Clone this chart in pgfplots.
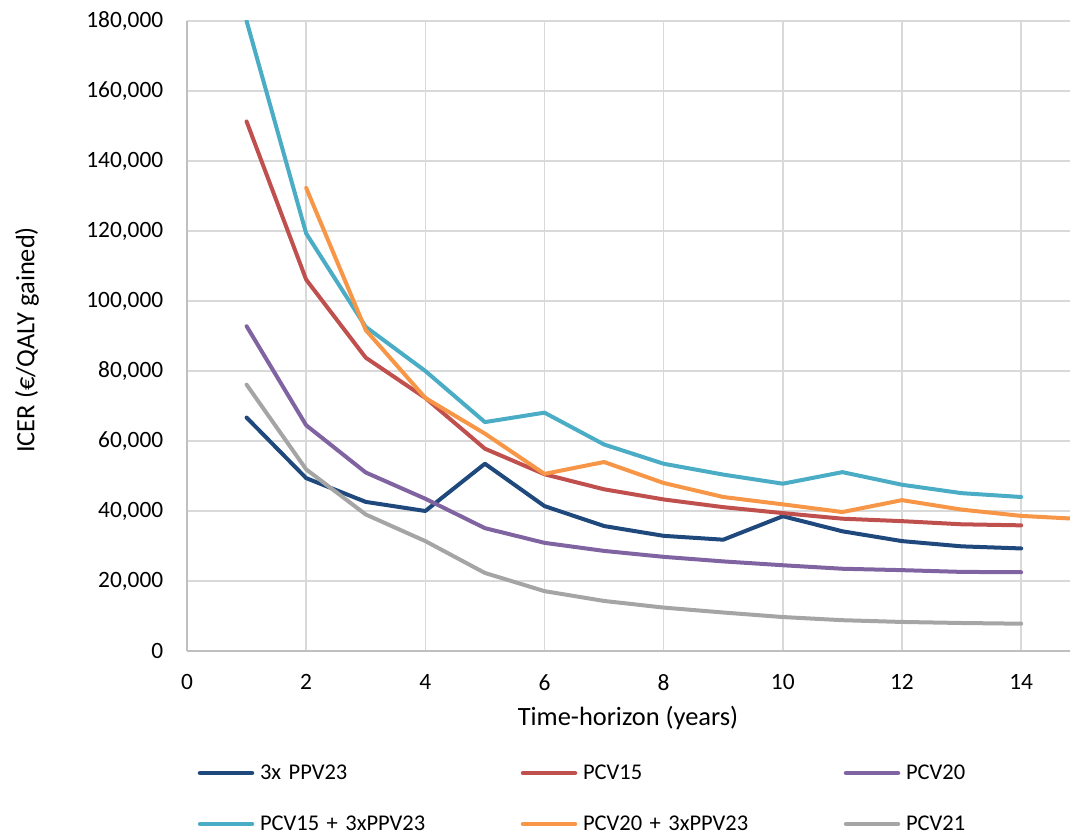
\documentclass[border=0pt]{standalone}
\usepackage{fontspec}
\setmainfont{Carlito}
\usepackage{pgfplots}
\pgfplotsset{compat=1.18}
\definecolor{cnavy}{HTML}{1F497D}
\definecolor{cred}{HTML}{C0504D}
\definecolor{cpurple}{HTML}{8064A2}
\definecolor{ccyan}{HTML}{4BACC6}
\definecolor{corange}{HTML}{F79646}
\definecolor{cgray}{HTML}{A5A5A5}
\definecolor{gridgray}{HTML}{D9D9D9}
\definecolor{axgray}{HTML}{BFBFBF}
\newcommand{\labfont}{\fontsize{26.4pt}{31pt}\selectfont}
\newcommand{\tickfont}{\fontsize{23.4pt}{28pt}\selectfont}
\begin{document}
\fontsize{22.5pt}{27pt}\selectfont
\begin{tikzpicture}
\begin{axis}[
  scale only axis, width=883pt, height=630pt,
  at={(0pt,0pt)}, anchor=south west,
  xmin=0, xmax=14.82, ymin=0, ymax=180000,
  xtick={0,2,...,14}, ytick={0,20000,...,180000},
  scaled y ticks=false,
  /pgf/number format/assume math mode=true,
  yticklabel style={font=\tickfont, color=black, xshift=-16pt, /pgf/number format/fixed, /pgf/number format/1000 sep={,}},
  xticklabel style={font=\tickfont, color=black, yshift=-16pt},
  grid=major, major grid style={color=gridgray, line width=1.5pt},
  axis x line*=bottom, axis y line*=left,
  axis line style={color=axgray, line width=2pt},
  major tick length=0pt,
  xlabel={\labfont Time-horizon (years)},
  ylabel={\labfont ICER (€/QALY gained)},
  every axis x label/.style={at={(axis description cs:0.4994,-0.1063)}, anchor=center},
  every axis y label/.style={at={(axis description cs:-0.1812,0.4937)}, anchor=center, rotate=90},
  legend columns=3,
  legend cell align=left,
  legend style={at={(axis description cs:0.01133,-0.17778)}, anchor=north west,
    draw=none, fill=none, inner sep=0pt, outer sep=0pt, column sep=0pt, row sep=31pt,
    nodes={inner sep=0pt, text height=16pt, text depth=4pt, text width=260pt, align=left}},
  legend image code/.code={\draw[#1, line width=4.5pt, line cap=round] (1pt,0pt) -- (53pt,0pt); \path (0pt,0pt) (59pt,0pt);},
  every axis plot/.append style={line width=4pt, line join=round, line cap=round, mark=none},
]
\addplot[cnavy] coordinates {(1,66700) (2,49400) (3,42600) (4,40000) (5,53500) (6,41400) (7,35700) (8,32900) (9,31800) (10,38500) (11,34200) (12,31400) (13,29900) (14,29300)};
\addlegendentry{3x PPV23}
\addplot[cred] coordinates {(1,151300) (2,106100) (3,83800) (4,72300) (5,57800) (6,50500) (7,46200) (8,43300) (9,41100) (10,39400) (11,37800) (12,37100) (13,36200) (14,35900)};
\addlegendentry{PCV15}
\addplot[cpurple] coordinates {(1,92800) (2,64500) (3,51000) (4,43500) (5,35100) (6,30900) (7,28600) (8,26900) (9,25600) (10,24500) (11,23500) (12,23100) (13,22600) (14,22500)};
\addlegendentry{PCV20}
\addplot[ccyan] coordinates {(1,180000) (2,119300) (3,92600) (4,80000) (5,65400) (6,68100) (7,59000) (8,53500) (9,50400) (10,47800) (11,51100) (12,47500) (13,45100) (14,44000)};
\addlegendentry{PCV15 + 3xPPV23}
\addplot[corange] coordinates {(2,132300) (3,91700) (4,72300) (5,62100) (6,50600) (7,54000) (8,48000) (9,44000) (10,41900) (11,39700) (12,43100) (13,40400) (14,38600) (15,37700)};
\addlegendentry{PCV20 + 3xPPV23}
\addplot[cgray] coordinates {(1,76100) (2,51900) (3,39000) (4,31400) (5,22300) (6,17100) (7,14300) (8,12400) (9,11000) (10,9700) (11,8800) (12,8300) (13,8000) (14,7800)};
\addlegendentry{PCV21}
\end{axis}
\pgfresetboundingbox
\useasboundingbox (-187pt,-186pt) rectangle (883pt,651pt);
\end{tikzpicture}
\end{document}
